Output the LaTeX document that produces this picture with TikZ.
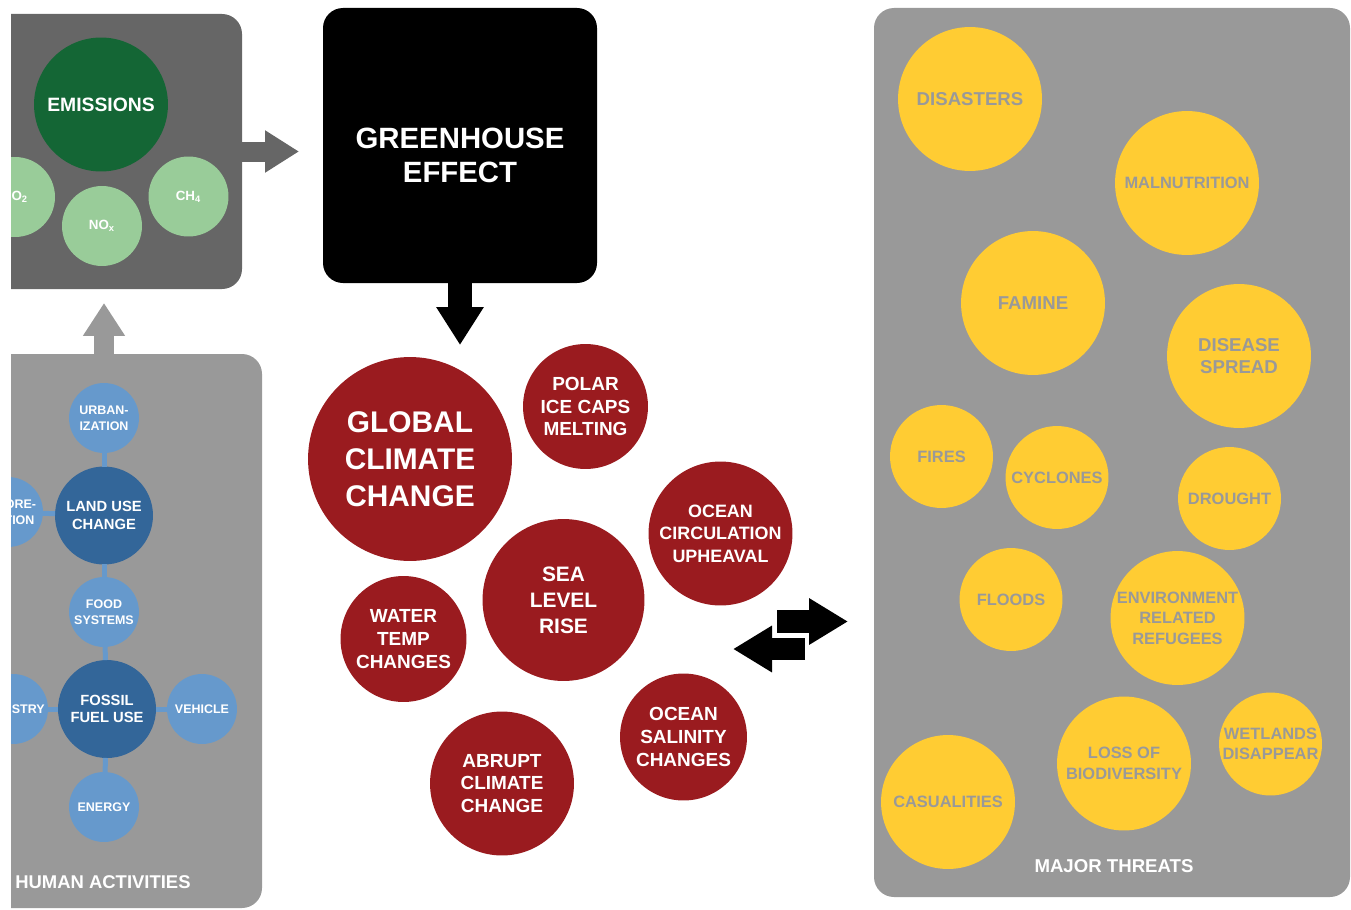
\documentclass[tikz,border=0pt]{standalone}
\usepackage{fontspec}
\setmainfont{Liberation Sans}
\usetikzlibrary{calc}
\usetikzlibrary{positioning}
\usetikzlibrary{arrows.meta}

\definecolor{panelDark}{HTML}{666666}
\definecolor{panelLight}{HTML}{999999}
\definecolor{emisGreen}{HTML}{146635}
\definecolor{gasGreen}{HTML}{99CC99}
\definecolor{actDark}{HTML}{336699}
\definecolor{actLight}{HTML}{6699CC}
\definecolor{climRed}{HTML}{9A1B1F}
\definecolor{threatYellow}{HTML}{FFCC33}

\begin{document}
\begin{tikzpicture}[x=0.02cm,y=-0.02cm,every node/.style={align=center,font=\bfseries},
panel/.style={rectangle,rounded corners=0.4cm,inner sep=0pt,outer sep=0pt},
bubble/.style={circle,inner sep=0pt,outer sep=0pt,minimum size=#1*0.04cm},
gas/.style={bubble=40,fill=gasGreen,text=white,font=\bfseries\fontsize{7.6}{9}\selectfont},
act/.style={bubble=35,fill=actLight,text=white,font=\bfseries\fontsize{7.1}{9.1}\selectfont},
actmain/.style={bubble=49,fill=actDark,text=white,font=\bfseries\fontsize{8.4}{9.9}\selectfont},
clim/.style={bubble=#1,fill=climRed,text=white,font=\bfseries\fontsize{10.8}{13}\selectfont},
threat/.style={bubble=#1,fill=threatYellow,text=panelLight,font=\bfseries\fontsize{9.35}{11.6}\selectfont},
bigthreat/.style={threat=72,font=\bfseries\fontsize{10.6}{12.5}\selectfont},
title/.style={text=white,font=\bfseries\fontsize{10.6}{12}\selectfont},
link/.style={actLight,line width=0.1cm},
blockarrow/.style={line width=#1*0.02cm}]
\useasboundingbox (0,0) rectangle (1351,909);
\clip (11,0) rectangle (1351,909);

% panels
\node[panel,fill=panelDark,minimum width=282*0.02cm,minimum height=275*0.02cm] (gases) at (101,151.5) {};
\node[panel,fill=panelLight,minimum width=302*0.02cm,minimum height=554*0.02cm] (human) at (111,631) {};
\node[panel,fill=panelLight,minimum width=476*0.02cm,minimum height=889*0.02cm] (threats) at (1112,452.5) {};
\node[panel,fill=black,minimum width=274*0.02cm,minimum height=275*0.02cm] (ghe) at (460,145.5) {};
\node[text=white,font=\bfseries\fontsize{16.7}{19.8}\selectfont] (gheText) at ($(ghe.center)+(0,10)$) {GREENHOUSE\\EFFECT};

% emissions
\node[bubble=67,fill=emisGreen,text=white,font=\bfseries\fontsize{11}{13}\selectfont] (emis) at (101,104.5) {EMISSIONS};
\node[gas] (co2) at (15,197) {CO\textsubscript{2}};
\node[gas] (nox) at (102,226) {NO\textsubscript{x}};
\node[gas] (ch4) at (188.5,196.5) {CH\textsubscript{4}};

% human activities
\node[act] (urban) at (104,418) {URBAN-\\IZATION};
\node[actmain] (landuse) at (104,515.5) {LAND USE\\CHANGE};
\node[act] (defor) at (8,512) {DEFORE-\\STATION};
\node[act] (food) at (104,612) {FOOD\\SYSTEMS};
\node[actmain] (fossil) at (107,709) {FOSSIL\\FUEL USE};
\node[act] (industry) at (13,709) {INDUSTRY};
\node[act] (vehicle) at (202,709) {VEHICLE};
\node[act] (energy) at (104,807) {ENERGY};
\node[title,anchor=west,inner sep=0pt,font=\bfseries\fontsize{10.5}{12}\selectfont] (humanLbl) at (15,882) {HUMAN ACTIVITIES};
\draw[link] (urban) -- (landuse);
\draw[link] (defor) -- (landuse);
\draw[link] (landuse) -- (food);
\draw[link] (food) -- (fossil);
\draw[link] (industry) -- (fossil);
\draw[link] (fossil) -- (vehicle);
\draw[link] (fossil) -- (energy);

% climate change
\node[clim=102,font=\bfseries\fontsize{17}{21}\selectfont] (gcc) at (410,459) {GLOBAL\\CLIMATE\\CHANGE};
\node[clim=62.5] (polar) at (585.5,406.5) {POLAR\\ICE CAPS\\MELTING};
\node[clim=72,font=\bfseries\fontsize{10.2}{12.8}\selectfont] (ocirc) at (720.5,533.5) {OCEAN\\CIRCULATION\\UPHEAVAL};
\node[clim=81,font=\bfseries\fontsize{11.9}{14.7}\selectfont] (sea) at (563.5,600) {SEA\\LEVEL\\RISE};
\node[clim=63] (water) at (403.5,639) {WATER\\TEMP\\CHANGES};
\node[clim=63.5] (salin) at (683.5,737) {OCEAN\\SALINITY\\CHANGES};
\node[clim=72] (abrupt) at (502,783.5) {ABRUPT\\CLIMATE\\CHANGE};

% major threats
\node[bigthreat] (disasters) at (970,99) {DISASTERS};
\node[threat=72] (malnut) at (1187,183) {MALNUTRITION};
\node[bigthreat] (famine) at (1033,303) {FAMINE};
\node[bigthreat] (disease) at (1239,356) {DISEASE\\SPREAD};
\node[threat=51.5] (fires) at (941.5,456.5) {FIRES};
\node[threat=51.5] (cyclones) at (1057,477.5) {CYCLONES};
\node[threat=51.5] (drought) at (1229.5,498.5) {DROUGHT};
\node[threat=51.5] (floods) at (1011,599.5) {FLOODS};
\node[threat=67] (refugees) at (1177.5,618) {ENVIRONMENT\\RELATED\\REFUGEES};
\node[threat=51.5] (wetlands) at (1270.5,744) {WETLANDS\\DISAPPEAR};
\node[threat=67] (loss) at (1124,763.5) {LOSS OF\\BIODIVERSITY};
\node[threat=67] (casual) at (948,802) {CASUALITIES};
\node[title] (threatLbl) at (1114,866) {MAJOR THREATS};

% arrows
\coordinate (gheIn) at (299,151.5);
\coordinate (gasesIn) at (104,303);
\coordinate (toThreats) at (848,621.5);
\coordinate (fromThreats) at (733,649);
\draw[blockarrow=20,panelDark,-{Triangle[length=0.68cm,width=0.8cm]}] (gases.east) -- (gheIn);
\draw[blockarrow=20,panelLight,-{Triangle[length=0.66cm,width=0.8cm]}] (urban |- human.north) -- (gasesIn);
\draw[blockarrow=24,black,-{Triangle[length=0.76cm,width=0.9cm]}] (ghe.south) -- ++(0,62);
\draw[blockarrow=23,black,-{Triangle[length=0.78cm,width=0.88cm]}] (777,621.5) -- (toThreats);
\draw[blockarrow=22,black,-{Triangle[length=0.78cm,width=0.88cm]}] (805,649) -- (fromThreats);
\end{tikzpicture}
\end{document}
